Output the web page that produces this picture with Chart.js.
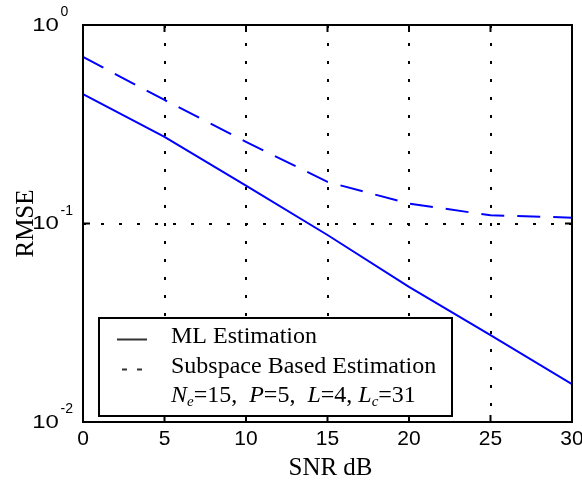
<!DOCTYPE html>
<html>
<head>
<meta charset="utf-8">
<script src="https://cdn.jsdelivr.net/npm/chart.js@4.4.0/dist/chart.umd.min.js"></script>
<style>
  html, body { margin: 0; padding: 0; background: #fff; }
  #wrap { width: 582px; height: 480px; }
</style>
</head>
<body>
<div id="wrap"><canvas id="rmseChart"></canvas></div>
<script>
// SNR (dB) and RMSE values
const snr = [0, 5, 10, 15, 20, 25, 30];
const mlRmse = [0.449, 0.273, 0.155, 0.0875, 0.048, 0.0274, 0.0155];
const subspaceRmse = [0.69, 0.419, 0.258, 0.162, 0.126, 0.110, 0.107];

const xTicks = [0, 5, 10, 15, 20, 25, 30];
const yTicks = [0.01, 0.1, 1];
const yTickExp = ['-2', '-1', '0'];

const legendLabels = ['ML Estimation', 'Subspace Based Estimation'];
const paramParts = ['N', 'e', '=15,  ', 'P', '=5,  ', 'L', '=4, ', 'L', 'c', '=31'];

const SANS = '"Liberation Sans", Arial, sans-serif';
const SERIF = '"Liberation Serif", "Times New Roman", serif';

// frame, inward ticks, tick labels, axis titles and the legend box
const decorations = {
    id: 'decorations',
    afterDraw(chart) {
        const { ctx, chartArea: a, scales: { x, y } } = chart;
        ctx.save();

        // box round the plot
        ctx.strokeStyle = '#000';
        ctx.lineWidth = 2;
        ctx.strokeRect(a.left, a.top, a.right - a.left, a.bottom - a.top);

        // inward ticks
        ctx.beginPath();
        xTicks.forEach(v => {
            const px = x.getPixelForValue(v);
            ctx.moveTo(px, a.bottom); ctx.lineTo(px, a.bottom - 7);
            ctx.moveTo(px, a.top); ctx.lineTo(px, a.top + 7);
        });
        yTicks.forEach(v => {
            const py = y.getPixelForValue(v);
            ctx.moveTo(a.left, py); ctx.lineTo(a.left + 7, py);
            ctx.moveTo(a.right, py); ctx.lineTo(a.right - 7, py);
        });
        ctx.stroke();

        ctx.fillStyle = '#000';
        ctx.textBaseline = 'alphabetic';

        // x tick labels
        ctx.font = '21px ' + SANS;
        ctx.textAlign = 'center';
        xTicks.forEach(v => ctx.fillText(String(v), x.getPixelForValue(v), 445));

        // y tick labels, a wide "10" with a raised exponent
        ctx.textAlign = 'left';
        yTicks.forEach((v, i) => {
            const py = y.getPixelForValue(v);
            ctx.font = '18px ' + SANS;
            ctx.save();
            ctx.translate(a.left - 50.7, py + 5.5);
            ctx.scale(1.33, 1);
            ctx.fillText('10', 0, 0);
            ctx.restore();
            ctx.font = '14px ' + SANS;
            ctx.fillText(yTickExp[i], a.left - 22.5, py - 9);
        });

        // axis titles
        ctx.font = '25px ' + SERIF;
        ctx.textAlign = 'center';
        ctx.fillText('SNR dB', (a.left + a.right) / 2 + 3, 475);
        ctx.save();
        ctx.translate(33, (a.top + a.bottom) / 2);
        ctx.rotate(-Math.PI / 2);
        ctx.fillText('RMSE', 0, 0);
        ctx.restore();

        // legend
        const lx = 99, ly = 318, lw = 353, lh = 98;
        ctx.fillStyle = '#fff';
        ctx.fillRect(lx, ly, lw, lh);
        ctx.strokeStyle = '#000';
        ctx.lineWidth = 2;
        ctx.strokeRect(lx, ly, lw, lh);

        ctx.strokeStyle = '#333';
        ctx.lineWidth = 2;
        ctx.beginPath();
        ctx.moveTo(117, 339.5); ctx.lineTo(147, 339.5);
        ctx.moveTo(122, 369.5); ctx.lineTo(127, 369.5);
        ctx.moveTo(137, 369.5); ctx.lineTo(142, 369.5);
        ctx.stroke();

        ctx.fillStyle = '#000';
        ctx.textAlign = 'left';
        ctx.font = '24px ' + SERIF;
        ctx.fillText(legendLabels[0], 171, 343);
        ctx.fillText(legendLabels[1], 171, 373);

        // N_e=15,  P=5,  L=4, L_c=31 (letters italic, e and c as subscripts)
        let cx = 171;
        paramParts.forEach(part => {
            const sub = part === 'e' || part === 'c';
            const italic = /^[A-Za-z]$/.test(part);
            ctx.font = (italic ? 'italic ' : '') + (sub ? '15px ' : '24px ') + SERIF;
            ctx.fillText(part, cx, sub ? 406 : 402);
            cx += ctx.measureText(part).width;
        });

        ctx.restore();
    }
};

const edgeHidden = (edges) => (c) =>
    (c.tick && edges.includes(c.tick.value)) ? 'rgba(0,0,0,0)' : '#000';

new Chart(document.getElementById('rmseChart'), {
    type: 'line',
    data: {
        datasets: [{
            label: legendLabels[0],
            data: snr.map((s, i) => ({ x: s, y: mlRmse[i] })),
            borderColor: '#0000ff',
            borderWidth: 2,
            pointRadius: 0,
            fill: false
        }, {
            label: legendLabels[1],
            data: snr.map((s, i) => ({ x: s, y: subspaceRmse[i] })),
            borderColor: '#0000ff',
            borderWidth: 2,
            borderDash: [23, 13],
            pointRadius: 0,
            fill: false
        }]
    },
    options: {
        responsive: true,
        maintainAspectRatio: false,
        animation: false,
        devicePixelRatio: 1,
        layout: { padding: { left: 83, right: 10, top: 25, bottom: 58 } },
        plugins: { legend: { display: false }, tooltip: { enabled: false } },
        scales: {
            x: {
                type: 'linear',
                min: 0,
                max: 30,
                afterBuildTicks: s => { s.ticks = xTicks.map(v => ({ value: v })); },
                ticks: { display: false },
                grid: { color: edgeHidden([0, 30]), lineWidth: 2, drawTicks: false },
                border: { display: false, dash: [3, 15] }
            },
            y: {
                type: 'logarithmic',
                min: 0.01,
                max: 1,
                afterBuildTicks: s => { s.ticks = yTicks.map(v => ({ value: v })); },
                ticks: { display: false },
                grid: { color: edgeHidden([0.01, 1]), lineWidth: 2, drawTicks: false },
                border: { display: false, dash: [3, 15] }
            }
        }
    },
    plugins: [decorations]
});
</script>
</body>
</html>
